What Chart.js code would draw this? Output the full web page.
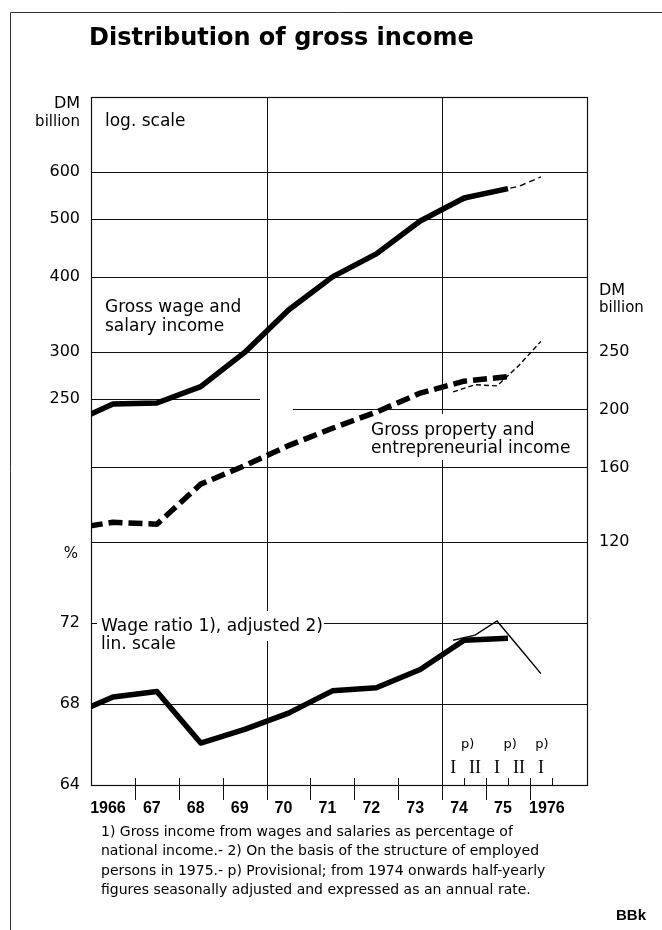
<!DOCTYPE html>
<html>
<head>
<meta charset="utf-8">
<title>Distribution of gross income</title>
<script src="https://cdn.jsdelivr.net/npm/chart.js@4.4.1/dist/chart.umd.min.js"></script>
<style>
  html, body { margin: 0; padding: 0; background: #fff; }
  #wrap { width: 662px; height: 930px; }
</style>
</head>
<body>
<div id="wrap"><canvas id="chart" width="662" height="930"></canvas></div>
<script>
/* ====== Distribution of gross income (Bundesbank chart) ======
 * upper panel: log scale, DM billion (wages left, property income right)
 * lower panel: wage ratio in %, linear
 * annual values sit at mid-year; 1965 only feeds the piece cut off at the left edge
 */

// annual series
const years          = [1965, 1966, 1967, 1968, 1969, 1970, 1971, 1972, 1973, 1974, 1975];
const wageIncome     = [227, 245, 246, 262, 299, 352, 400, 437, 496, 542, 562];
const propertyIncome = [126, 129.5, 128.5, 150, 161, 174, 186, 198, 213, 223, 227];
const wageRatio      = [67.4, 68.35, 68.62, 66.07, 66.75, 67.55, 68.65, 68.8, 69.7, 71.15, 71.25];

// half-yearly figures, seasonally adjusted annual rates (1974 I .. 1976 I)
const halfYears    = [1974.25, 1974.75, 1975.25, 1975.75, 1976.25];
const halfLabels   = ["I", "II", "I", "II", "I"];
const wageHalf     = [527, 547, 557, 567, 588];
const propertyHalf = [214, 220, 219, 237, 260];
const ratioHalf    = [71.15, 71.4, 72.1, 70.8, 69.5];
const provisionalAt = [1974.58, 1975.55, 1976.27];   // where the "p)" marks go

// tick labels
const yearMids   = [1966.5, 1967.5, 1968.5, 1969.5, 1970.5, 1971.5, 1972.5, 1973.5, 1974.5, 1975.5, 1976.5];
const yearLabels = ["1966", "67", "68", "69", "70", "71", "72", "73", "74", "75", "1976"];
const leftTicks  = [250, 300, 400, 500, 600];
const rightTicks = [120, 160, 200, 250];
const ratioTicks = [64, 68, 72];

// grid lines
const leftGrid   = [300, 400, 500, 600];
const rightGrid  = [120, 160];
const ratioGrid  = [68, 72];
const eraLines   = [1970, 1974];
const yearBounds = [1967, 1968, 1969, 1970, 1971, 1972, 1973, 1974, 1975, 1976];
const halfTicks  = [1974.5, 1975.5, 1976.5];

const footnotes = [
  "1) Gross income from wages and salaries as percentage of",
  "national income.- 2) On the basis of the structure of employed",
  "persons in 1975.- p) Provisional; from 1974 onwards half-yearly",
  "figures seasonally adjusted and expressed as an annual rate."
];

/* ---------- look ---------- */
const INK  = "#111";
const SANS = '"DejaVu Sans", sans-serif';
const HELV = '"Liberation Sans", Arial, sans-serif';
const SERIF = '"Liberation Serif", "DejaVu Serif", serif';
const UPPER_H = 445, LOWER_H = 243;   // panel heights (stack weights)

const pts = (xs, vs) => xs.map((x, i) => ({ x, y: vs[i] }));
const mid = years.map(y => y + 0.5);

function txt(ctx, s, x, y, font, align) {
  ctx.font = font;
  ctx.textAlign = align || "left";
  ctx.textBaseline = "alphabetic";
  ctx.fillText(s, x, y);
}

/* ---------- grid, frame, in-plot labels ---------- */
const gridPlugin = {
  id: "gridPlugin",
  beforeDatasetsDraw(chart) {
    const { ctx, chartArea: a } = chart;
    const { x, y, y2, pct } = chart.scales;
    const c = v => Math.round(v) + 0.5;
    const h = (py, x0, x1) => { ctx.beginPath(); ctx.moveTo(x0, c(py)); ctx.lineTo(x1, c(py)); ctx.stroke(); };
    const v = (px, y0, y1) => { ctx.beginPath(); ctx.moveTo(c(px), y0); ctx.lineTo(c(px), y1); ctx.stroke(); };

    ctx.save();
    ctx.strokeStyle = INK;
    ctx.fillStyle = "#000";
    ctx.lineWidth = 1;

    leftGrid.forEach(val => h(y.getPixelForValue(val), a.left, a.right));
    h(y.getPixelForValue(250), a.left, x.getPixelForValue(1969.85));      // left 250 stops short
    rightGrid.forEach(val => h(y2.getPixelForValue(val), a.left, a.right));
    h(y2.getPixelForValue(200), x.getPixelForValue(1970.6), a.right);     // right 200 starts late
    ratioGrid.forEach(val => h(pct.getPixelForValue(val), a.left, a.right));
    eraLines.forEach(yr => v(x.getPixelForValue(yr), a.top, a.bottom));

    // year ticks across the axis, half-year ticks above it
    yearBounds.forEach(yr => v(x.getPixelForValue(yr), a.bottom - 7, a.bottom + 15));
    halfTicks.forEach(yr => v(x.getPixelForValue(yr), a.bottom - 7, a.bottom));

    // frame
    ctx.lineWidth = 1.2;
    ctx.strokeRect(c(a.left), c(a.top), Math.round(a.right - a.left), Math.round(a.bottom - a.top));

    // upper panel texts
    txt(ctx, "DM", 80, 108, "16px " + SANS, "right");
    txt(ctx, "billion", 80, 126, "15px " + SANS, "right");
    txt(ctx, "log. scale", 105, 126, "17px " + SANS);
    txt(ctx, "Gross wage and", 105, 312, "17px " + SANS);
    txt(ctx, "salary income", 105, 331, "17px " + SANS);
    txt(ctx, "DM", 599, 295, "16px " + SANS);
    txt(ctx, "billion", 599, 312, "15px " + SANS);

    ctx.fillStyle = "#fff";
    ctx.fillRect(365, 414, 210, 46);
    ctx.fillStyle = "#000";
    txt(ctx, "Gross property and", 371, 435, "17px " + SANS);
    txt(ctx, "entrepreneurial income", 371, 453, "17px " + SANS);

    // lower panel texts
    txt(ctx, "%", 78, 558, "15px " + SANS, "right");
    ctx.fillStyle = "#fff";
    ctx.fillRect(97, 611, 227, 30);
    ctx.fillStyle = "#000";
    txt(ctx, "Wage ratio 1), adjusted 2)", 101, 631, "17px " + SANS);
    txt(ctx, "lin. scale", 101, 649, "17px " + SANS);

    halfYears.forEach((yr, i) => txt(ctx, halfLabels[i], x.getPixelForValue(yr), 773, "18px " + SERIF, "center"));
    provisionalAt.forEach(yr => txt(ctx, "p)", x.getPixelForValue(yr), 748, "13px " + SANS, "center"));
    ctx.restore();
  }
};

/* ---------- title, notes, page border ---------- */
const pagePlugin = {
  id: "pagePlugin",
  afterDraw(chart) {
    const { ctx } = chart;
    ctx.save();
    ctx.strokeStyle = "#333";
    ctx.lineWidth = 1;
    ctx.beginPath();
    ctx.moveTo(10.5, 930); ctx.lineTo(10.5, 12.5); ctx.lineTo(662, 12.5);
    ctx.stroke();
    ctx.fillStyle = "#000";
    txt(ctx, "Distribution of gross income", 89, 45, "bold 24px " + SANS);
    footnotes.forEach((line, i) => txt(ctx, line, 101, 836 + i * 19.3, "14px " + SANS));
    txt(ctx, "BBk", 646, 920, "bold 15px " + HELV, "right");
    ctx.restore();
  }
};

/* ---------- chart ---------- */
const thick = { borderColor: "#000", borderWidth: 5.5, pointRadius: 0, tension: 0,
                borderJoinStyle: "round", borderCapStyle: "butt", clip: 0, fill: false };
const thin  = { borderColor: "#000", borderWidth: 1.4, pointRadius: 0, tension: 0, clip: 0, fill: false };

const tickFont = { family: SANS, size: 16 };

new Chart(document.getElementById("chart"), {
  type: "line",
  data: {
    datasets: [
      { ...thick, label: "Gross wage and salary income", data: pts(mid, wageIncome), yAxisID: "y" },
      { ...thick, label: "Gross property and entrepreneurial income", data: pts(mid, propertyIncome),
        yAxisID: "y2", borderDash: [14, 6] },
      { ...thick, label: "Wage ratio", data: pts(mid, wageRatio), yAxisID: "pct" },
      { ...thin, label: "wages, half-yearly", data: pts(halfYears, wageHalf), yAxisID: "y", borderDash: [6, 4] },
      { ...thin, label: "property, half-yearly", data: pts(halfYears, propertyHalf), yAxisID: "y2", borderDash: [5, 3] },
      { ...thin, label: "ratio, half-yearly", data: pts(halfYears, ratioHalf), yAxisID: "pct" }
    ]
  },
  options: {
    responsive: false,
    animation: false,
    devicePixelRatio: 1,
    layout: { padding: { top: 97, left: 10, right: 0, bottom: 115 }, autoPadding: false },
    plugins: { legend: { display: false }, tooltip: { enabled: false }, title: { display: false } },
    scales: {
      x: {
        type: "linear", position: "bottom", min: 1966, max: 1977.3,
        grid: { display: false, drawTicks: false }, border: { display: false },
        afterBuildTicks: s => { s.ticks = yearMids.map(v => ({ value: v })); },
        afterFit: s => { s.height = 30; },
        ticks: { autoSkip: false, maxRotation: 0, padding: 14, labelOffset: -5, color: "#000",
                 font: { family: HELV, size: 16, weight: "bold" },
                 callback: (v, i) => yearLabels[i] }
      },
      y: {
        type: "logarithmic", position: "left", stack: "left", stackWeight: UPPER_H, weight: 1,
        min: 144, max: 800,
        grid: { display: false, drawTicks: false }, border: { display: false },
        afterBuildTicks: s => { s.ticks = leftTicks.map(v => ({ value: v })); },
        afterFit: s => { s.width = 81; },
        ticks: { padding: 11, color: "#000", font: tickFont, callback: v => String(v) }
      },
      pct: {
        type: "linear", position: "left", stack: "left", stackWeight: LOWER_H, weight: 0,
        min: 64, max: 76,
        grid: { display: false, drawTicks: false }, border: { display: false },
        afterBuildTicks: s => { s.ticks = ratioTicks.map(v => ({ value: v })); },
        afterFit: s => { s.width = 81; },
        ticks: { padding: 11, color: "#000", font: tickFont, callback: v => String(v) }
      },
      y2: {
        type: "logarithmic", position: "right", stack: "right", stackWeight: UPPER_H,
        min: 120, max: 666.7,
        grid: { display: false, drawTicks: false }, border: { display: false },
        afterBuildTicks: s => { s.ticks = rightTicks.map(v => ({ value: v })); },
        afterFit: s => { s.width = 75; },
        ticks: { padding: 12, color: "#000", font: tickFont, callback: v => String(v) }
      },
      pad: {
        type: "linear", position: "right", stack: "right", stackWeight: LOWER_H, display: true,
        min: 0, max: 1,
        grid: { display: false, drawTicks: false }, border: { display: false },
        afterFit: s => { s.width = 75; },
        ticks: { display: false }
      }
    }
  },
  plugins: [gridPlugin, pagePlugin]
});
</script>
</body>
</html>
